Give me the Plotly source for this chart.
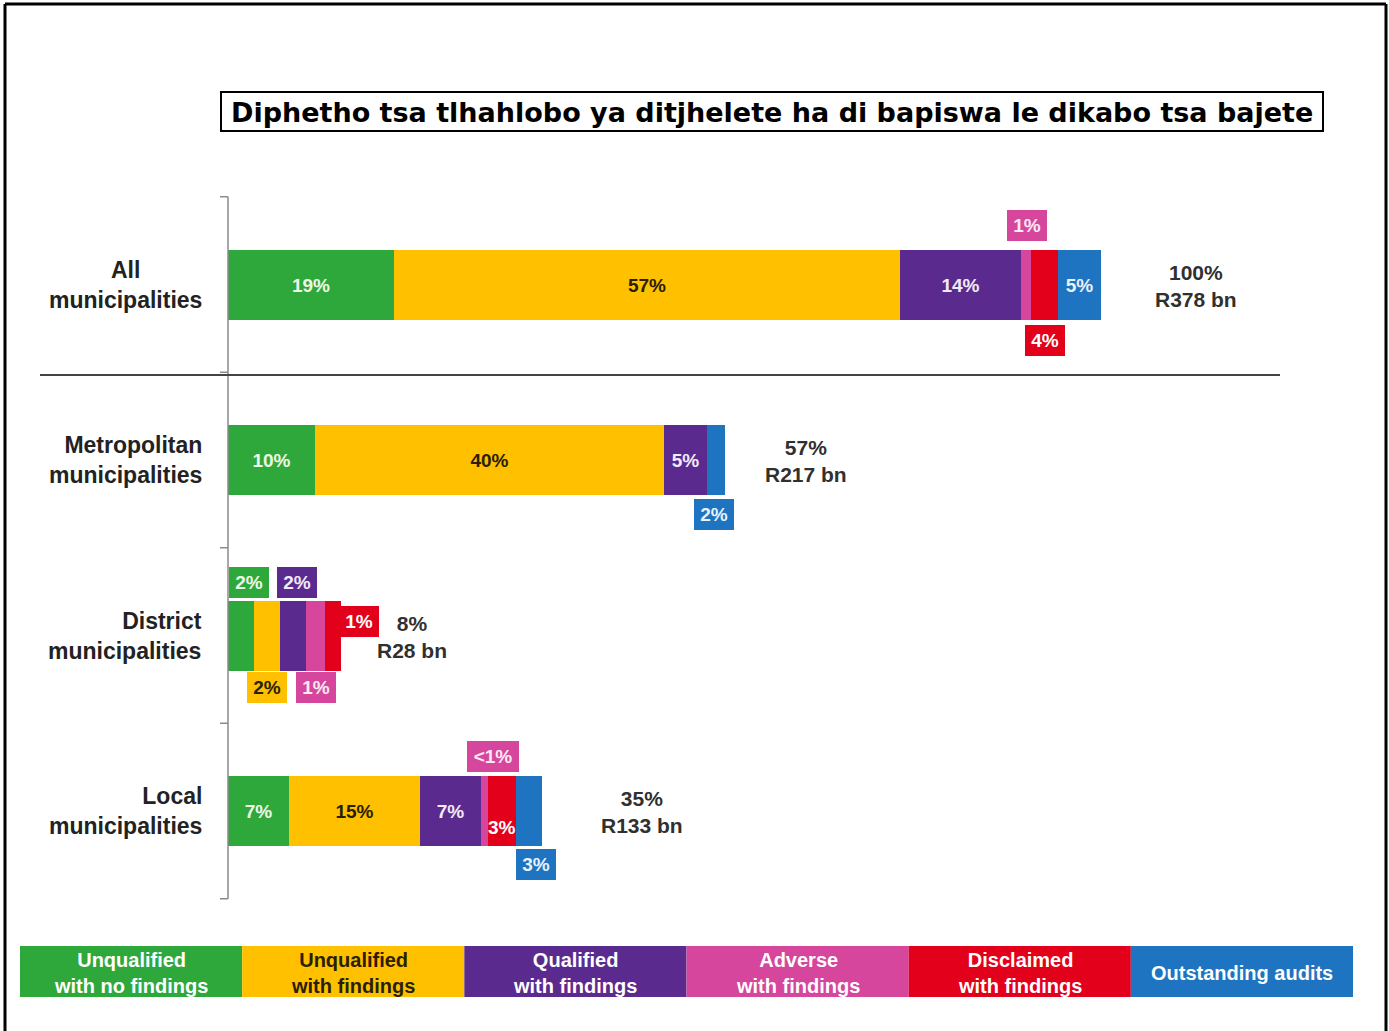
import plotly.graph_objects as go

W, H = 1389, 1031

# ---------------- data ----------------
categories = ["All<br>municipalities", "Metropolitan<br>municipalities",
              "District<br>municipalities", "Local<br>municipalities"]
series_names = ["Unqualified with no findings", "Unqualified with findings",
                "Qualified with findings", "Adverse with findings",
                "Disclaimed with findings", "Outstanding audits"]
legend_labels = ["Unqualified<br>with no findings", "Unqualified<br>with findings",
                 "Qualified<br>with findings", "Adverse<br>with findings",
                 "Disclaimed<br>with findings", "Outstanding audits"]

# bar lengths as drawn (% of total expenditure budget)
unqualified_clean = [19.0, 10.0, 3.0, 7.0]
unqualified_findings = [58.1, 40.0, 3.0, 15.0]
qualified = [13.8, 4.9, 3.0, 7.0]
adverse = [1.15, 0.0, 2.1, 0.8]
disclaimed = [3.1, 0.0, 1.9, 3.2]
outstanding = [4.95, 2.1, 0.0, 3.0]

# printed labels
lab_clean = ["19%", "10%", "2%", "7%"]
lab_findings = ["57%", "40%", "2%", "15%"]
lab_qualified = ["14%", "5%", "2%", "7%"]
lab_adverse = ["1%", "", "1%", "<1%"]
lab_disclaimed = ["4%", "", "1%", "3%"]
lab_outstanding = ["5%", "2%", "", "3%"]

totals_pct = ["100%", "57%", "8%", "35%"]
totals_rand = ["R378 bn", "R217 bn", "R28 bn", "R133 bn"]

title_text = "Diphetho tsa tlhahlobo ya ditjhelete ha di bapiswa le dikabo tsa bajete"

# ---------------- style ----------------
colors = ["#2fa83b", "#ffc000", "#5b2a8e", "#d5469c", "#e2001b", "#1e74c1"]
text_colors = ["#eef8e6", "#2a2000", "#f1eaf8", "#fbe9f3", "#ffffff", "#e8f2fb"]
FONT = "Liberation Sans, Arial, sans-serif"

values = [unqualified_clean, unqualified_findings, qualified, adverse, disclaimed, outstanding]
labels = [lab_clean, lab_findings, lab_qualified, lab_adverse, lab_disclaimed, lab_outstanding]

# label placement: (series, category) -> (mode, dx, dy)   (others are inside)
placement = {
    (3, 0): ("box", 1, 59.5), (4, 0): ("box", 1, -56),
    (5, 1): ("box", -1.5, -54),
    (0, 2): ("box", 7.5, 53), (2, 2): ("box", 3.5, 53), (4, 2): ("box", 25.5, 14.5),
    (1, 2): ("box", 0, -51.5), (3, 2): ("box", 0, -51.5),
    (3, 3): ("box", 8.5, 54.5), (5, 3): ("box", 7, -53.5), (4, 3): ("low", 0, -16),
}

# pixel mapping helpers (plot area == whole figure)
X0PX, PXPCT = 228, 8.72
CAT0PX, CATPX = 284.5, 175.5
xr = [-X0PX / PXPCT, (W - X0PX) / PXPCT]
yr = [(H - CAT0PX) / CATPX, -CAT0PX / CATPX]
def px(x):
    return x / W
def py(y):
    return 1 - y / H

fig = go.Figure()
annotations = []
shapes = []

for s in range(6):
    inside = []
    for c in range(4):
        if (s, c) in placement:
            inside.append("")
        else:
            inside.append(labels[s][c])
    fig.add_trace(go.Bar(
        y=categories, x=values[s], orientation="h", name=series_names[s],
        marker=dict(color=colors[s], line=dict(width=0)),
        width=70 / CATPX,
        text=inside, textposition="inside", insidetextanchor="middle", textangle=0,
        textfont=dict(family=FONT, size=19, color=text_colors[s], weight="bold"),
        hoverinfo="x+name", showlegend=False,
    ))

# outside / boxed labels
for (s, c), (mode, dx, dy) in placement.items():
    start = sum(values[k][c] for k in range(s))
    center = start + values[s][c] / 2
    if mode == "box":
        annotations.append(dict(
            x=center, y=categories[c], xref="x", yref="y", text="<b>%s</b>" % labels[s][c],
            showarrow=False, xshift=dx, yshift=dy, bgcolor=colors[s],
            xanchor="center", yanchor="middle",
            width=52 if labels[s][c].startswith("<") else 40, height=31,
            borderpad=0, borderwidth=0,
            font=dict(family=FONT, size=19, color=text_colors[s]),
        ))
    else:
        annotations.append(dict(
            x=center, y=categories[c], xref="x", yref="y", text="<b>%s</b>" % labels[s][c],
            showarrow=False, xshift=dx, yshift=dy, xanchor="center", yanchor="middle",
            font=dict(family=FONT, size=19, color=text_colors[s]),
        ))

# totals to the right of bars
total_dx = [95, 81, 71, 100]
for c in range(4):
    tot = sum(values[k][c] for k in range(6))
    annotations.append(dict(
        x=tot, y=categories[c], xref="x", yref="y",
        text="<b>%s<br>%s</b>" % (totals_pct[c], totals_rand[c]),
        showarrow=False, xshift=total_dx[c], yshift=-1, align="center",
        xanchor="center", yanchor="middle",
        font=dict(family=FONT, size=21, color="#303030"),
    ))

# category labels
for c in range(4):
    annotations.append(dict(
        x=px(204), xref="paper", y=categories[c], yref="y", xanchor="right", yanchor="middle",
        text="<b>%s</b>" % categories[c], showarrow=False,
        align="center" if c == 0 else "right",
        font=dict(family=FONT, size=23, color="#222222"),
    ))

# vertical axis line and ticks
shapes.append(dict(type="line", xref="x", yref="y", x0=0, x1=0, y0=-0.5, y1=3.5,
                   line=dict(color="#8a8a8a", width=1.5)))
for t in [-0.5, 0.5, 1.5, 2.5, 3.5]:
    shapes.append(dict(type="line", xref="x", yref="y", x0=-8 / PXPCT, x1=0, y0=t, y1=t,
                       line=dict(color="#8a8a8a", width=1.5)))
# separator below "All municipalities"
shapes.append(dict(type="line", xref="paper", yref="paper", x0=px(40), x1=px(1280),
                   y0=py(375), y1=py(375), line=dict(color="#444444", width=2)))

# title box
shapes.append(dict(type="rect", xref="paper", yref="paper", x0=px(221), x1=px(1323),
                   y0=py(92), y1=py(131), line=dict(color="black", width=2)))
annotations.append(dict(x=px(772), y=py(112), xref="paper", yref="paper",
                        xanchor="center", yanchor="middle",
                        text="<b>%s</b>" % title_text, showarrow=False,
                        font=dict(family="DejaVu Sans, sans-serif", size=27, color="black")))

# legend boxes
LX0, LX1, LY0, LY1 = 20, 1353, 946, 997
bw = (LX1 - LX0) / 6
for s in range(6):
    x0 = LX0 + s * bw
    shapes.append(dict(type="rect", xref="paper", yref="paper", x0=px(x0), x1=px(x0 + bw),
                       y0=py(LY0), y1=py(LY1), fillcolor=colors[s], line=dict(width=0),
                       layer="below"))
    annotations.append(dict(x=px(x0 + bw / 2), y=py((LY0 + LY1) / 2 + 1), xref="paper", yref="paper",
                            xanchor="center", yanchor="middle",
                            text="<b>%s</b>" % legend_labels[s], showarrow=False,
                            font=dict(family=FONT, size=20,
                                      color="#2a2000" if s == 1 else "#ffffff")))

# outer frame (left, top, right)
for (a, b, c2, d) in [(5, 4, 5, H + 5), (5, 4, 1386, 4), (1386, 4, 1386, H + 5)]:
    shapes.append(dict(type="line", xref="paper", yref="paper", x0=px(a), y0=py(b),
                       x1=px(c2), y1=py(d), line=dict(color="black", width=3)))

fig.update_layout(
    width=W, height=H, margin=dict(l=0, r=0, t=0, b=0),
    paper_bgcolor="white", plot_bgcolor="white",
    barmode="stack", bargap=0,
    uniformtext=dict(minsize=19, mode="show"),
    xaxis=dict(range=xr, visible=False, fixedrange=True),
    yaxis=dict(range=yr, visible=False, type="category", fixedrange=True,
               categoryorder="array", categoryarray=categories),
    annotations=annotations, shapes=shapes,
    font=dict(family=FONT),
)

fig.write_html("out.html", config={"displayModeBar": False},
               post_script="document.body.style.margin='0';document.body.style.overflow='hidden';")
